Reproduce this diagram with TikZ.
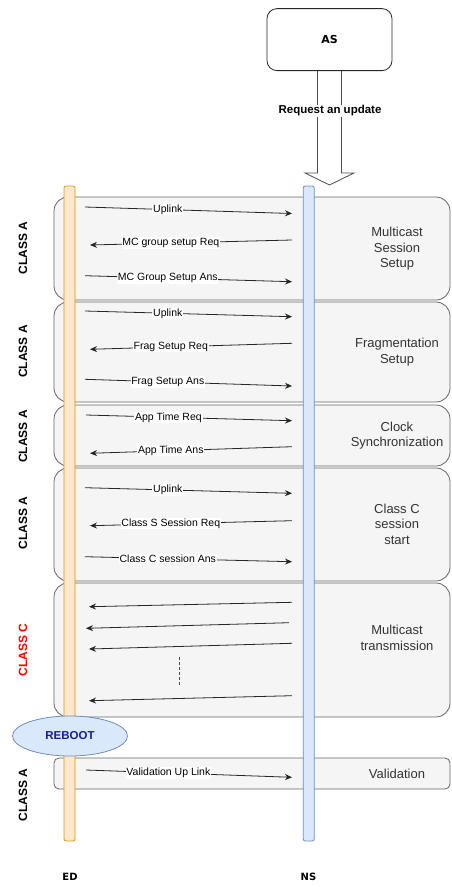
\documentclass[tikz,border=0pt]{standalone}
\usepackage{fontspec}
\setmainfont{Liberation Sans}
\newfontfamily\verdfont{DejaVu Sans}
\usetikzlibrary{arrows.meta,shapes.geometric}
\definecolor{grpfill}{HTML}{F5F5F5}
\definecolor{grpline}{HTML}{666666}
\definecolor{edfill}{HTML}{FFE6CC}
\definecolor{edline}{HTML}{D79B00}
\definecolor{nsfill}{HTML}{DAE8FC}
\definecolor{nsline}{HTML}{6C8EBF}
\definecolor{txtgray}{HTML}{333333}
\definecolor{rebootblue}{HTML}{1A1A99}
\tikzset{
  grpbox/.style={fill=grpfill,draw=grpline,line width=0.8pt,rounded corners=14},
  lifeline/.style={rectangle,rounded corners=2,minimum width=11,minimum height=655,inner sep=0,line width=0.8pt},
  msg/.style={draw=black!85,line width=0.8pt,-{Stealth[length=7pt,width=6pt]}},
  lbl/.style={fill=white,inner sep=0.8pt,font=\fontsize{10.5}{12}\selectfont},
  phase/.style={align=center,text=txtgray,font=\fontsize{13}{15.5}\selectfont},
  cls/.style={rotate=90,font=\bfseries\fontsize{12}{14}\selectfont}
}
\begin{document}
\begin{tikzpicture}[x=1pt,y=-1pt]
  \useasboundingbox (0,0) rectangle (451,887);
  % phases
  \foreach \ya/\yb in {197/300,302/402,405/466,468/581,583/717}
    \draw[grpbox] (54,\ya) rectangle (450,\yb);
  \draw[grpbox,rounded corners=5] (54,758) rectangle (450,789);
  \node[lifeline,fill=edfill,draw=edline] (ed) at (69.5,513.5) {};
  \node[lifeline,fill=nsfill,draw=nsline] (ns) at (308.75,513.5) {};
  % request from AS
  \coordinate (asb) at (329.5,71);
  \draw[draw=black!70,fill=white,line width=0.8pt] ([xshift=-12]asb) -- ++(0,102) -- ++(-12.5,0)
    -- ++(24.5,12) -- ++(24.5,-12) -- ++(-12.5,0) -- ++(0,-102);
  \node[draw=black!85,fill=white,rounded corners=10,minimum width=125,minimum height=62,
    anchor=south,line width=0.8pt,font=\verdfont\bfseries\fontsize{11}{13}\selectfont] (as) at (asb) {AS};
  \node[fill=white,inner sep=1pt,font=\bfseries\fontsize{11.5}{13}\selectfont] (req) at (330,111) {Request an update};
  % messages
  \foreach \n/\xa/\ya/\xb/\yb/\p/\txt in {
      1/85/207/292/213.5/.4/Uplink,
      2/292/240/90/245/.6/MC group setup Req,
      3/85/275.7/292/281.7/.4/MC Group Setup Ans,
      4/85/311/292/316.7/.4/Uplink,
      5/292/343.3/90/349.3/.6/Frag Setup Req,
      6/85/379.3/292/386/.4/Frag Setup Ans,
      7/86/415/292/420.7/.4/App Time Req,
      8/292/446.7/90/453.3/.6/App Time Ans,
      9/85/487.7/292/493.3/.4/Uplink,
      10/292/520.7/90/525.7/.6/Class S Session Req,
      11/85/556.7/292/561.7/.4/Class C session Ans,
      12/86/770/292/777.3/.4/Validation Up Link}{
    \coordinate (s\n) at (\xa,\ya);
    \coordinate (e\n) at (\xb,\yb);
    \draw[msg] (s\n) -- node[lbl,pos=\p] {\txt} (e\n);}
  \foreach \n/\xa/\ya/\xb/\yb in {13/292/602.3/89/606.7,14/289/622.7/86/628.3,
      15/292/643.3/89/649,16/292/695.7/89/700.7}{
    \coordinate (s\n) at (\xa,\ya);
    \coordinate (e\n) at (\xb,\yb);
    \draw[msg] (s\n) -- (e\n);}
  \draw[black!70,line width=0.8pt,dash pattern=on 3pt off 2pt] (179,657) -- (179,686);
  % phase names
  \node[phase] (p1) at (397,249) {Multicast\\Session\\Setup};
  \node[phase] (p2) at (397,352) {Fragmentation\\Setup};
  \node[phase] (p3) at (397,435.5) {Clock\\Synchronization};
  \node[phase] (p4) at (397,524) {Class C\\session\\start};
  \node[phase] (p5) at (397,638) {Multicast\\transmission};
  \node[phase] (p6) at (397,774) {Validation};
  % device classes
  \node[cls] (c1) at (23,248) {CLASS A};
  \node[cls] (c2) at (23,351.5) {CLASS A};
  \node[cls] (c3) at (23,436.5) {CLASS A};
  \node[cls] (c4) at (23,523) {CLASS A};
  \node[cls,text=red] (c5) at (23,650) {CLASS C};
  \node[cls] (c6) at (23,795) {CLASS A};
  \node[ellipse,draw=nsline,fill=nsfill,minimum width=115,minimum height=40,inner sep=0,line width=0.8pt,
    text=rebootblue,font=\bfseries\fontsize{11.5}{13}\selectfont] (reboot) at (70,736) {REBOOT};
  \node[font=\verdfont\bfseries\fontsize{10}{12}\selectfont] (edl) at (70,877) {ED};
  \node[font=\verdfont\bfseries\fontsize{10}{12}\selectfont] (nsl) at (308.5,877) {NS};
\end{tikzpicture}
\end{document}
